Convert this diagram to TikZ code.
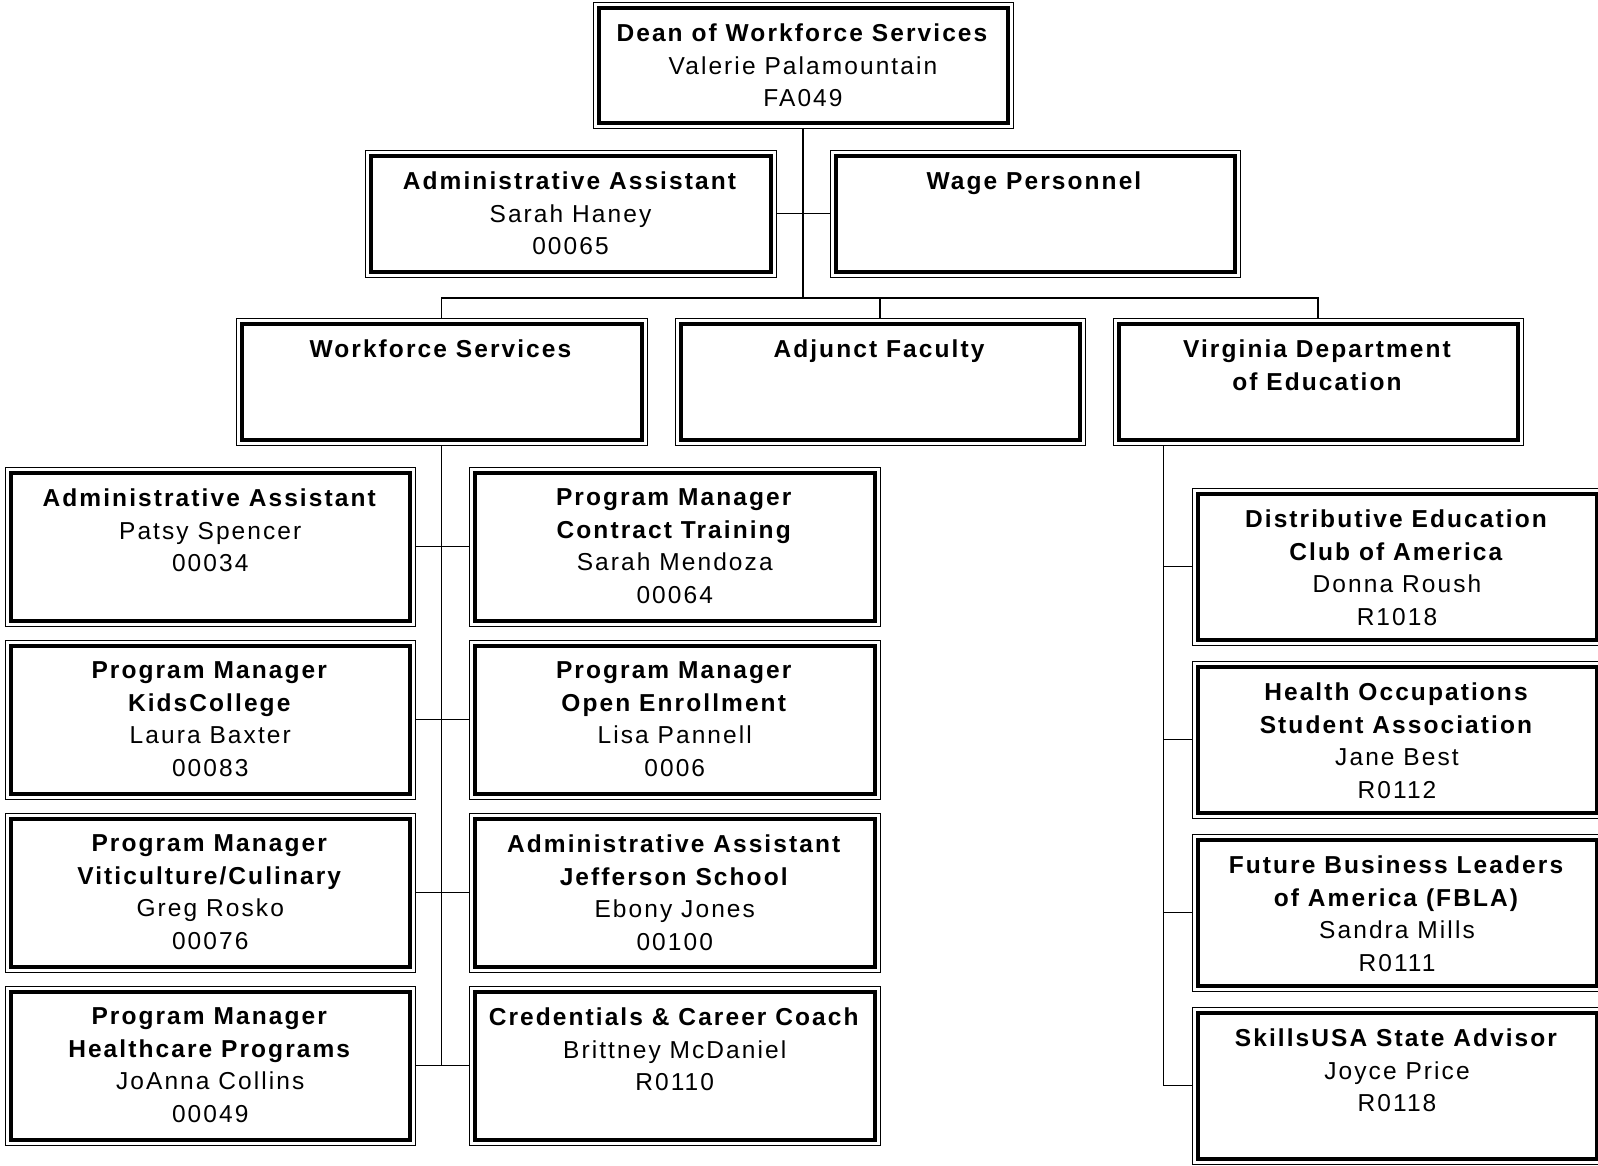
\documentclass[tikz,border=0pt]{standalone}
\usepackage{fontspec}
\setmainfont[LetterSpace=8.5]{Liberation Sans}
\usetikzlibrary{fit,calc}
\tikzset{
  outerbox/.style={draw, line width=1pt, inner sep=0pt, outer sep=0pt, rectangle},
  innerline/.style={line width=4pt},
  txt/.style={align=center, inner sep=0pt, anchor=north, font=\fontsize{24.5}{32.6}\selectfont},
  conn/.style={line width=1.3pt}
}
\newcommand\obox[6]{%
  \path (#2,#3) coordinate (#1nw) (#4,#5) coordinate (#1se);
  \node[outerbox, fit=(#1nw)(#1se)] (#1) {};
  \draw[innerline] ([shift={(5.5pt,-5.5pt)}]#1.north west) rectangle ([shift={(-5.5pt,5.5pt)}]#1.south east);
  \node[txt] (#1t) at ([yshift=-21.5pt]#1.north) {#6};
}
\begin{document}
\begin{tikzpicture}[x=1pt,y=-1pt]
\useasboundingbox (0,0) rectangle (1598,1165);
\fill[white] (0,0) rectangle (1598,1165);
% top level
\obox{dean}{593}{2}{1013}{128}{\textbf{Dean of Workforce Services}\\Valerie Palamountain\\FA049}
\obox{adm}{365}{150}{776}{277}{\textbf{Administrative Assistant}\\Sarah Haney\\00065}
\obox{wage}{830}{150}{1240}{277}{\textbf{Wage Personnel}}
\obox{ws}{236}{318}{647}{445}{\textbf{Workforce Services}}
\obox{adj}{675}{318}{1085}{445}{\textbf{Adjunct Faculty}}
\obox{vdoe}{1113}{318}{1523}{445}{\textbf{Virginia Department}\\\textbf{of Education}}
% left column
\obox{la}{5}{467}{415.5}{626}{\textbf{Administrative Assistant}\\Patsy Spencer\\00034}
\obox{lb}{5}{640}{415.5}{799}{\textbf{Program Manager}\\\textbf{KidsCollege}\\Laura Baxter\\00083}
\obox{lc}{5}{813}{415.5}{972}{\textbf{Program Manager}\\\textbf{Viticulture/Culinary}\\Greg Rosko\\00076}
\obox{ld}{5}{986}{415.5}{1145}{\textbf{Program Manager}\\\textbf{Healthcare Programs}\\JoAnna Collins\\00049}
% right column
\obox{ra}{469.5}{467}{880}{626}{\textbf{Program Manager}\\\textbf{Contract Training}\\Sarah Mendoza\\00064}
\obox{rb}{469.5}{640}{880}{799}{\textbf{Program Manager}\\\textbf{Open Enrollment}\\Lisa Pannell\\0006}
\obox{rc}{469.5}{813}{880}{972}{\textbf{Administrative Assistant}\\\textbf{Jefferson School}\\Ebony Jones\\00100}
\obox{rd}{469.5}{986}{880}{1145}{\textbf{Credentials \& Career Coach}\\Brittney McDaniel\\R0110}
% VDOE column
\obox{ca}{1192}{488}{1602}{645}{\textbf{Distributive Education}\\\textbf{Club of America}\\Donna Roush\\R1018}
\obox{cb}{1192}{661}{1602}{818}{\textbf{Health Occupations}\\\textbf{Student Association}\\Jane Best\\R0112}
\obox{cc}{1192}{834}{1602}{991}{\textbf{Future Business Leaders}\\\textbf{of America (FBLA)}\\Sandra Mills\\R0111}
\obox{cd}{1192}{1007}{1602}{1164}{\textbf{SkillsUSA State Advisor}\\Joyce Price\\R0118}
% connectors
\coordinate (bus) at (803,298);
\draw[conn] (dean.south) -- (bus);
\draw[conn] (adm.east) -- (wage.west);
\draw[conn] (ws.north) |- (bus) -| (vdoe.north);
\draw[conn] (adj.north) -- (adj.north |- bus);
\draw[conn] (ws.south) -- (ws.south |- ld.east);
\draw[conn] (la.east) -- (ra.west);
\draw[conn] (lb.east) -- (rb.west);
\draw[conn] (lc.east) -- (rc.west);
\draw[conn] (ld.east) -- (rd.west);
\coordinate (vtop) at (1163.5,445);
\draw[conn] (vtop) |- (cd.west);
\draw[conn] (ca.west) -- (ca.west -| vtop);
\draw[conn] (cb.west) -- (cb.west -| vtop);
\draw[conn] (cc.west) -- (cc.west -| vtop);
\end{tikzpicture}
\end{document}
